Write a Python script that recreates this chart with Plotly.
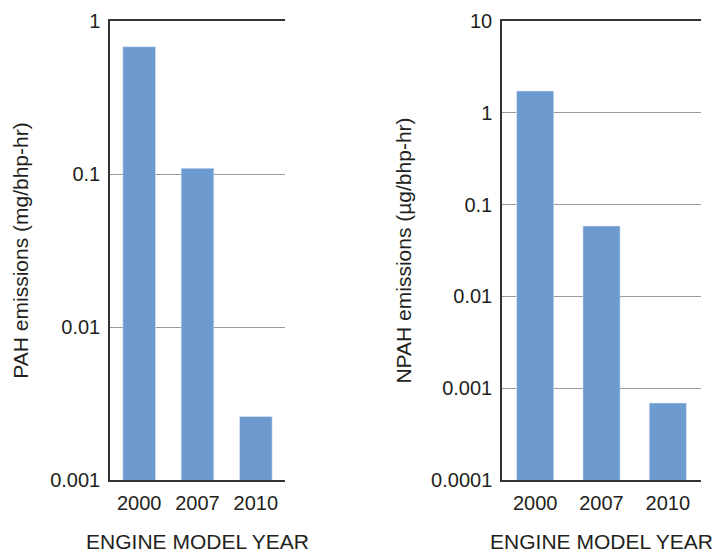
import plotly.graph_objects as go

years = ["2000", "2007", "2010"]
pah_values = [0.68, 0.109, 0.0026]
npah_values = [1.73, 0.0585, 0.00069]

pah_tickvals = [0.001, 0.01, 0.1, 1]
pah_ticktext = ["0.001", "0.01", "0.1", "1"]
npah_tickvals = [0.0001, 0.001, 0.01, 0.1, 1, 10]
npah_ticktext = ["0.0001", "0.001", "0.01", "0.1", "1", "10"]

BAR = "#6E9BCF"
TXT = "#231F20"
FONT = "Liberation Sans, Arial, Helvetica, sans-serif"

W, H = 717, 553


def xd(a, b):
    return [a / W, b / W]


ydom = [(H - 480) / H, (H - 21) / H]

fig = go.Figure()
fig.add_trace(go.Bar(x=years, y=pah_values, marker_color=BAR, width=0.56,
                     xaxis="x", yaxis="y", showlegend=False))
fig.add_trace(go.Bar(x=years, y=npah_values, marker_color=BAR, width=0.56,
                     xaxis="x2", yaxis="y2", showlegend=False))

common_x = dict(showline=True, linecolor="#333333", linewidth=1.5, mirror=True,
                showgrid=False, ticks="", ticklabelstandoff=4, automargin=False,
                tickfont=dict(size=20, color=TXT), fixedrange=True)
common_y = dict(type="log", showline=True, linecolor="#333333", linewidth=1.5,
                showgrid=True, gridcolor="#9A9A9A", gridwidth=1, ticks="",
                ticklabelstandoff=4, automargin=False,
                tickfont=dict(size=20, color=TXT), zeroline=False)

fig.update_layout(
    width=W, height=H,
    margin=dict(l=0, r=0, t=0, b=0),
    paper_bgcolor="white", plot_bgcolor="white",
    font=dict(family=FONT, color=TXT, size=20),
    xaxis=dict(domain=xd(110, 285), anchor="y",
               title=dict(text="ENGINE MODEL YEAR", font=dict(size=21, color=TXT), standoff=26),
               **common_x),
    yaxis=dict(domain=ydom, anchor="x", range=[-3, 0],
               tickvals=pah_tickvals, ticktext=pah_ticktext,
               title=dict(text="PAH emissions (mg/bhp-hr)", font=dict(size=21, color=TXT), standoff=16),
               **common_y),
    xaxis2=dict(domain=xd(502, 701), anchor="y2",
                title=dict(text="ENGINE MODEL YEAR", font=dict(size=21, color=TXT), standoff=26),
                **common_x),
    yaxis2=dict(domain=ydom, anchor="x2", range=[-4, 1],
                tickvals=npah_tickvals, ticktext=npah_ticktext,
                title=dict(text="NPAH emissions (µg/bhp-hr)", font=dict(size=21, color=TXT), standoff=14),
                **common_y),
)

fig.write_html(
    "out.html",
    config={"displayModeBar": False},
    post_script="document.body.style.margin='0';document.body.style.overflow='hidden';",
)
